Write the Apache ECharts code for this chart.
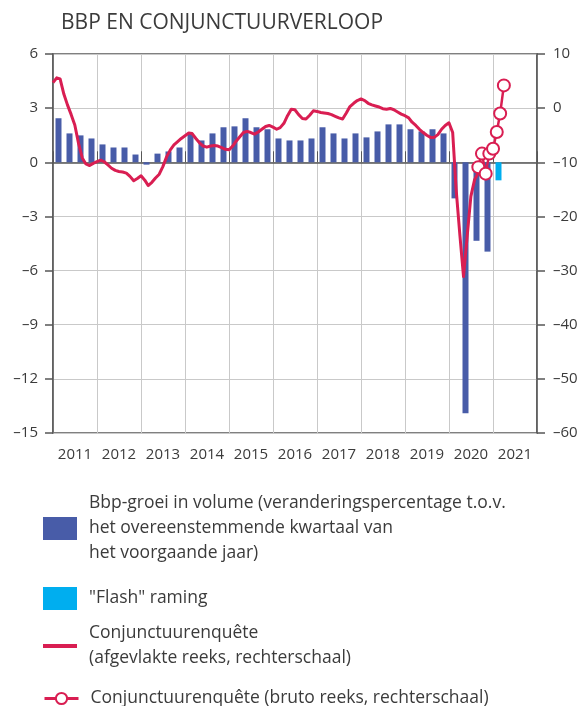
<!DOCTYPE html>
<html>
<head>
<meta charset="utf-8">
<script src="https://cdn.jsdelivr.net/npm/echarts@6/dist/echarts.min.js"></script>
<style>
    html, body { margin: 0; padding: 0; background: #fff; }
    #chart { width: 582px; height: 706px; }
</style>
</head>
<body>
<div id="chart"></div>
<script>
// jaren op de x-as
var jaren = ['2011', '2012', '2013', '2014', '2015', '2016', '2017', '2018', '2019', '2020', '2021'];
var kwartalen = [];
jaren.forEach(function (j) {
    for (var k = 1; k <= 4; k++) kwartalen.push(j + 'K' + k);
});

// bbp-groei per kwartaal, 2011K1 - 2020K4
var bbpGroei = [
    2.44, 1.6, 1.49, 1.32,
    0.99, 0.82, 0.82, 0.43,
    -0.13, 0.48, 0.6, 0.82,
    1.6, 1.21, 1.6, 1.94,
    1.99, 2.44, 1.94, 1.83,
    1.32, 1.21, 1.21, 1.32,
    1.94, 1.6, 1.32, 1.6,
    1.38, 1.71, 2.1, 2.1,
    1.83, 1.71, 1.83, 1.6,
    -2.0, -13.9, -4.35, -4.95
];
var flashKwartaal = '2021K1';
var flashRaming = -1.0;

// conjunctuurenquete, afgevlakte reeks (maandelijks vanaf jan 2011)
var afgevlaktStart = '2011-01';
var afgevlakt = [
    4.7, 5.6, 5.4, 2.6, 0.6, -1.2, -3.1, -6.5, -9.2, -10.3, -10.6, -10.2,
    -9.9, -9.6, -9.9, -10.5, -11.1, -11.5, -11.7, -11.8, -12.0, -12.6, -13.4, -13.0,
    -12.5, -13.3, -14.3, -13.7, -12.9, -12.2, -10.8, -9.0, -7.7, -6.8, -6.2, -5.6,
    -5.1, -4.6, -4.7, -5.6, -6.4, -7.0, -7.2, -7.0, -6.9, -7.0, -7.3, -7.6,
    -7.7, -7.0, -6.1, -5.3, -4.5, -4.3, -4.5, -4.8, -4.4, -3.9, -3.4, -3.2,
    -3.5, -3.9, -3.6, -2.8, -1.4, -0.2, -0.3, -1.2, -1.9, -2.0, -1.3, -0.5,
    -0.6, -0.8, -0.9, -1.0, -1.2, -1.5, -1.8, -2.0, -0.9, 0.3, 0.9, 1.4,
    1.7, 1.4, 0.9, 0.6, 0.4, 0.2, -0.1, -0.2, -0.05, -0.3, -0.7, -1.1,
    -1.4, -1.8, -2.6, -3.2, -3.9, -4.5, -5.0, -5.4, -5.4, -4.9, -3.9, -3.2,
    -2.7, -4.5, -15.1, -23.5, -31.1, -23.5, -16.3, -13.2, -11.9
];
// bruto reeks (maandelijks vanaf sep 2020)
var brutoStart = '2020-09';
var bruto = [-10.9, -8.4, -12.1, -8.4, -7.5, -4.4, -1.0, 4.2];

function maandReeks(start, waarden) {
    var p = start.split('-');
    var y = +p[0], m = +p[1] - 1;
    return waarden.map(function (v, i) {
        var mm = m + i;
        return [new Date(y + Math.floor(mm / 12), mm % 12, 1), v];
    });
}

function streep(v) {
    return v < 0 ? '\u2013' + Math.abs(v) : '' + v;
}

var rood = '#d91e52';
var blauw = '#485ca8';
var cyaan = '#00aeef';
var donker = '#575757';
var grijs = '#c9c9c9';
var font = 'Open Sans';
var tekstKleur = '#3b3b3b';

var naamBbp = 'Bbp-groei in volume';
var naamFlash = 'Flash';
var naamAfg = 'Conjunctuurenquête afgevlakt';
var naamBruto = 'Conjunctuurenquête bruto';

var legendTekst = {};
legendTekst[naamBbp] = 'Bbp-groei in volume (veranderingspercentage t.o.v.\nhet overeenstemmende kwartaal van\nhet voorgaande jaar)';
legendTekst[naamFlash] = '"Flash" raming';
legendTekst[naamAfg] = 'Conjunctuurenquête\n(afgevlakte reeks, rechterschaal)';
legendTekst[naamBruto] = 'Conjunctuurenquête (bruto reeks, rechterschaal)';

function maakLegend(naam, top, w, h, icon) {
    var l = {
        data: [naam],
        left: 43,
        top: top,
        padding: 0,
        itemWidth: w,
        itemHeight: h,
        selectedMode: false,
        formatter: function (n) { return legendTekst[n]; },
        textStyle: {
            fontFamily: font,
            fontSize: 17.5,
            lineHeight: 25,
            color: tekstKleur,
            padding: [0, 0, 0, 7]
        }
    };
    if (icon) l.icon = icon;
    return l;
}

var brutoLegend = maakLegend(naamBruto, 686, 34, 14);
brutoLegend.lineStyle = { width: 3 };

var myChart = echarts.init(document.getElementById('chart'));
var option = {
    animation: false,
    title: {
        text: 'BBP EN CONJUNCTUURVERLOOP',
        left: 56,
        top: 8,
        textStyle: {
            fontFamily: font,
            fontSize: 21,
            fontWeight: 'normal',
            color: tekstKleur
        }
    },
    legend: [
        maakLegend(naamBbp, 491, 34, 23, 'rect'),
        maakLegend(naamFlash, 586, 34, 23, 'rect'),
        maakLegend(naamAfg, 621, 34, 4, 'rect'),
        brutoLegend
    ],
    grid: {
        left: 53,
        top: 54,
        width: 484,
        height: 379,
        show: true,
        borderColor: donker,
        borderWidth: 1.5,
        backgroundColor: 'transparent'
    },
    xAxis: [
        {
            // kwartalen voor de staven, lijn op nul
            type: 'category',
            data: kwartalen,
            boundaryGap: true,
            axisLine: { onZero: true, onZeroAxisIndex: 0, lineStyle: { color: donker, width: 1.5 } },
            axisTick: { show: true, interval: 3, inside: true, length: 11, lineStyle: { color: donker, width: 1 } },
            axisLabel: { show: false },
            splitLine: { show: false }
        },
        {
            // jaartallen + verticale rasterlijnen
            type: 'category',
            data: jaren,
            boundaryGap: true,
            position: 'bottom',
            axisLine: { show: false, onZero: false },
            axisTick: { show: false, interval: 0 },
            axisLabel: { interval: 0, margin: 14, fontFamily: font, fontSize: 15, color: tekstKleur },
            splitLine: { show: true, interval: 0, lineStyle: { color: grijs, width: 1 } }
        },
        {
            // maanden voor de lijnen
            type: 'time',
            min: new Date(2011, 0, 1),
            max: new Date(2022, 0, 1),
            show: false,
            axisLine: { onZero: false },
            splitLine: { show: false }
        }
    ],
    yAxis: [
        {
            type: 'value',
            min: -15,
            max: 6,
            interval: 3,
            position: 'left',
            axisLine: { show: true, onZero: false, lineStyle: { color: donker, width: 1.5 } },
            axisTick: { show: true, length: 8, lineStyle: { color: donker, width: 1.5 } },
            axisLabel: { margin: 15, fontFamily: font, fontSize: 15, color: tekstKleur, formatter: streep },
            splitLine: { show: true, lineStyle: { color: grijs, width: 1 } }
        },
        {
            type: 'value',
            min: -60,
            max: 10,
            interval: 10,
            position: 'right',
            axisLine: { show: true, onZero: false, lineStyle: { color: donker, width: 1.5 } },
            axisTick: { show: true, length: 8, lineStyle: { color: donker, width: 1.5 } },
            axisLabel: { margin: 16, fontFamily: font, fontSize: 15, color: tekstKleur, formatter: streep },
            splitLine: { show: false }
        }
    ],
    series: [
        {
            name: naamBbp,
            type: 'bar',
            xAxisIndex: 0,
            yAxisIndex: 0,
            data: bbpGroei,
            barWidth: 6,
            barGap: '-100%',
            itemStyle: { color: blauw }
        },
        {
            name: naamFlash,
            type: 'bar',
            xAxisIndex: 0,
            yAxisIndex: 0,
            data: [[flashKwartaal, flashRaming]],
            barWidth: 6,
            barGap: '-100%',
            itemStyle: { color: cyaan }
        },
        {
            name: naamAfg,
            type: 'line',
            xAxisIndex: 2,
            yAxisIndex: 1,
            data: maandReeks(afgevlaktStart, afgevlakt),
            symbol: 'none',
            z: 3,
            lineStyle: { color: rood, width: 3, join: 'round' },
            itemStyle: { color: rood }
        },
        {
            name: naamBruto,
            type: 'line',
            xAxisIndex: 2,
            yAxisIndex: 1,
            data: maandReeks(brutoStart, bruto),
            symbol: 'circle',
            symbolSize: 12,
            z: 4,
            lineStyle: { color: rood, width: 2.5 },
            itemStyle: { color: '#fff', borderColor: rood, borderWidth: 2 }
        }
    ]
};
myChart.setOption(option);
</script>
</body>
</html>
